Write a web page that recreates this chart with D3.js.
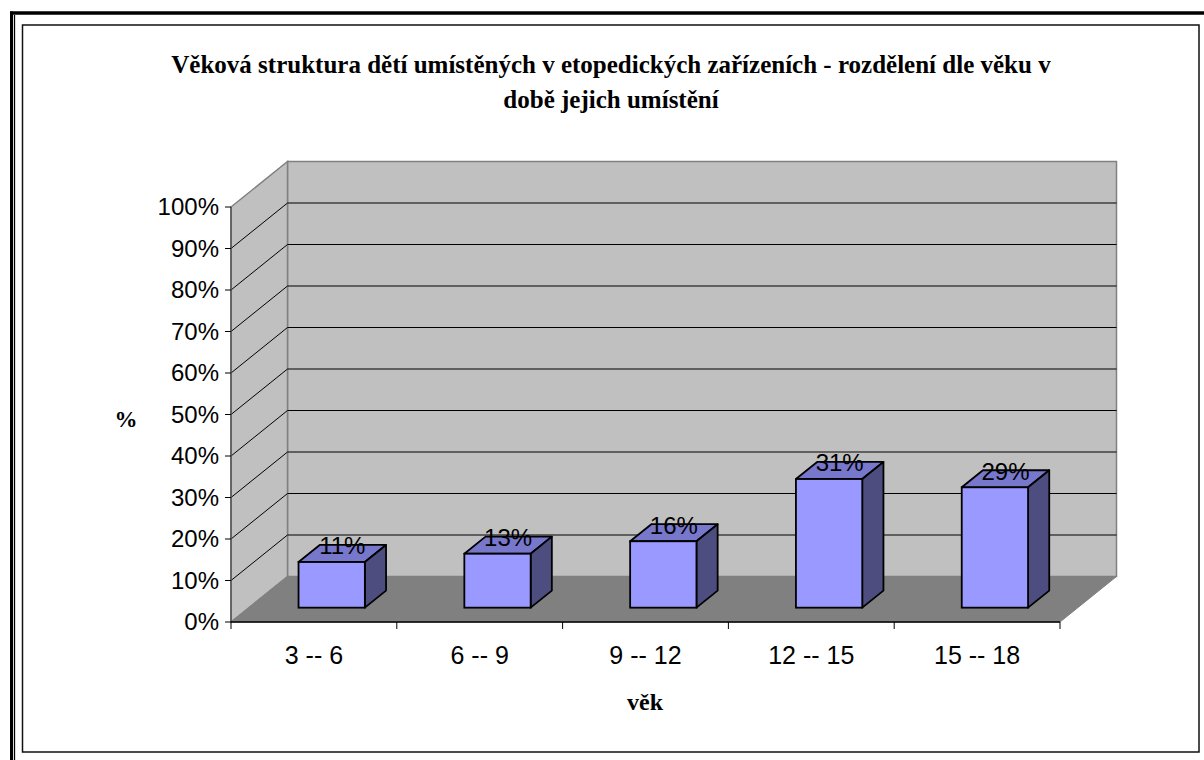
<!DOCTYPE html>
<html>
<head>
<meta charset="utf-8">
<script src="https://cdn.jsdelivr.net/npm/d3@7"></script>
<style>
html,body{margin:0;padding:0;background:#fff;}
svg{display:block;}
.serifb{font-family:"Liberation Serif","Times New Roman",serif;font-weight:bold;}
.sans{font-family:"Liberation Sans",Arial,sans-serif;}
</style>
</head>
<body>
<svg id="chart" width="1204" height="760"></svg>
<script>
const categories = ["3 -- 6", "6 -- 9", "9 -- 12", "12 -- 15", "15 -- 18"];
const values = [11, 13, 16, 31, 29];
const yTicks = [0, 10, 20, 30, 40, 50, 60, 70, 80, 90, 100];
const titleLines = ["Věková struktura dětí umístěných v etopedických zařízeních - rozdělení dle věku v", "době jejich umístění"];
const yTitle = "%";
const xTitle = "věk";

const svg = d3.select("#chart");
const W = 1204, H = 760;
svg.append("rect").attr("width", W).attr("height", H).attr("fill", "#fff");

// outer double border (clipped at right/bottom)
svg.append("line").attr("x1", 10).attr("x2", W).attr("y1", 13).attr("y2", 13).attr("stroke", "#000").attr("stroke-width", 3.5);
svg.append("line").attr("x1", 11.5).attr("x2", 11.5).attr("y1", 11.5).attr("y2", H).attr("stroke", "#000").attr("stroke-width", 3);
svg.append("line").attr("x1", 14.5).attr("x2", 14.5).attr("y1", 15).attr("y2", H).attr("stroke", "#000").attr("stroke-width", 1.3);
// inner frame
svg.append("rect").attr("x", 22.5).attr("y", 25).attr("width", 1176.5).attr("height", 727)
  .attr("fill", "none").attr("stroke", "#111").attr("stroke-width", 1.5);

// geometry
const x0 = 231, x1 = 1060;
const dx = 56.5, dy = -45.5;
const x = d3.scaleBand().domain(categories).range([x0, x1]).paddingInner(0.6).paddingOuter(0.3);
const y = d3.scaleLinear().domain([0, 100]).range([622, 207]);
const fFront = 0.315, fBack = 0.69;

const g = svg.append("g");
const pt = (px, py) => px + "," + py;

// back wall
g.append("polygon").attr("points", [pt(x0+dx, y(100)+dy), pt(x1+dx, y(100)+dy), pt(x1+dx, y(0)+dy), pt(x0+dx, y(0)+dy)].join(" "))
  .attr("fill", "#C0C0C0").attr("stroke", "#808080").attr("stroke-width", 1.5);
// side wall
g.append("polygon").attr("points", [pt(x0, y(100)), pt(x0+dx, y(100)+dy), pt(x0+dx, y(0)+dy), pt(x0, y(0))].join(" "))
  .attr("fill", "#C0C0C0").attr("stroke", "#808080").attr("stroke-width", 1.5);
// floor
g.append("polygon").attr("points", [pt(x0, y(0)), pt(x0+dx, y(0)+dy), pt(x1+dx, y(0)+dy), pt(x1, y(0))].join(" "))
  .attr("fill", "#808080").attr("stroke", "#808080").attr("stroke-width", 1);

// gridlines
const gridVals = yTicks.filter(v => v > 0 && v < 100);
g.selectAll(".gb").data(gridVals).join("line")
  .attr("x1", x0+dx).attr("x2", x1+dx)
  .attr("y1", d => y(d)+dy).attr("y2", d => y(d)+dy)
  .attr("stroke", "#000").attr("stroke-width", 1);
g.selectAll(".gs").data(gridVals).join("line")
  .attr("x1", x0).attr("x2", x0+dx)
  .attr("y1", d => y(d)).attr("y2", d => y(d)+dy)
  .attr("stroke", "#000").attr("stroke-width", 1);

// y axis
g.append("line").attr("x1", x0).attr("x2", x0).attr("y1", y(100)).attr("y2", y(0)).attr("stroke", "#555").attr("stroke-width", 1.5);
g.selectAll(".yt").data(yTicks).join("line")
  .attr("x1", x0-6).attr("x2", x0).attr("y1", d => y(d)).attr("y2", d => y(d))
  .attr("stroke", "#000").attr("stroke-width", 1);
g.selectAll(".yl").data(yTicks).join("text")
  .attr("class", "sans")
  .attr("x", x0-12).attr("y", d => y(d)).attr("dy", "0.35em")
  .attr("text-anchor", "end").style("font-size", "24px")
  .text(d => d + "%");

// x axis
g.append("line").attr("x1", x0).attr("x2", x1).attr("y1", y(0)).attr("y2", y(0)).attr("stroke", "#000").attr("stroke-width", 1.5);
const bounds = d3.range(categories.length + 1).map(i => x0 + i * x.step());
g.selectAll(".xt").data(bounds).join("line")
  .attr("x1", d => d).attr("x2", d => d).attr("y1", y(0)).attr("y2", y(0)+7)
  .attr("stroke", "#000").attr("stroke-width", 1);
g.selectAll(".xl").data(categories).join("text")
  .attr("class", "sans")
  .attr("x", d => x(d) + x.bandwidth()/2).attr("y", 664)
  .attr("text-anchor", "middle").style("font-size", "25px")
  .text(d => d);

// bars
const data = categories.map((c, i) => ({c, v: values[i]}));
const bars = g.selectAll(".bar").data(data).join("g");
const bx = d => x(d.c) + fFront*dx;
const by0 = y(0) + fFront*dy;
const ddx = (fBack - fFront)*dx, ddy = (fBack - fFront)*dy;
const topY = d => by0 - (y(0) - y(d.v));
const bw = x.bandwidth();
bars.append("polygon")
  .attr("points", d => [pt(bx(d), topY(d)), pt(bx(d)+ddx, topY(d)+ddy), pt(bx(d)+bw+ddx, topY(d)+ddy), pt(bx(d)+bw, topY(d))].join(" "))
  .attr("fill", "#7777CC").attr("stroke", "#000").attr("stroke-width", 1.8).attr("stroke-linejoin", "round");
bars.append("polygon")
  .attr("points", d => [pt(bx(d)+bw, topY(d)), pt(bx(d)+bw+ddx, topY(d)+ddy), pt(bx(d)+bw+ddx, by0+ddy), pt(bx(d)+bw, by0)].join(" "))
  .attr("fill", "#4D4D80").attr("stroke", "#000").attr("stroke-width", 1.8).attr("stroke-linejoin", "round");
bars.append("rect")
  .attr("x", bx).attr("y", topY).attr("width", bw).attr("height", d => by0 - topY(d))
  .attr("fill", "#9999FF").attr("stroke", "#000").attr("stroke-width", 1.8);
bars.append("text")
  .attr("class", "sans")
  .attr("x", d => bx(d) + bw/2 + ddx/2).attr("y", d => topY(d) + ddy/2 + 1)
  .attr("text-anchor", "middle").style("font-size", "24px")
  .attr("fill", "#000")
  .text(d => d.v + "%");

// titles
const tg = svg.append("g");
tg.selectAll("text").data(titleLines).join("text")
  .attr("class", "serifb")
  .attr("x", 611).attr("y", (d, i) => 73 + i * 35)
  .attr("text-anchor", "middle").style("font-size", "25px")
  .text(d => d);
svg.append("text").attr("class", "serifb").attr("x", 126).attr("y", 427).attr("text-anchor", "middle")
  .style("font-size", "23px").text(yTitle);
svg.append("text").attr("class", "serifb").attr("x", 645).attr("y", 710).attr("text-anchor", "middle")
  .style("font-size", "24px").text(xTitle);
</script>
</body>
</html>
